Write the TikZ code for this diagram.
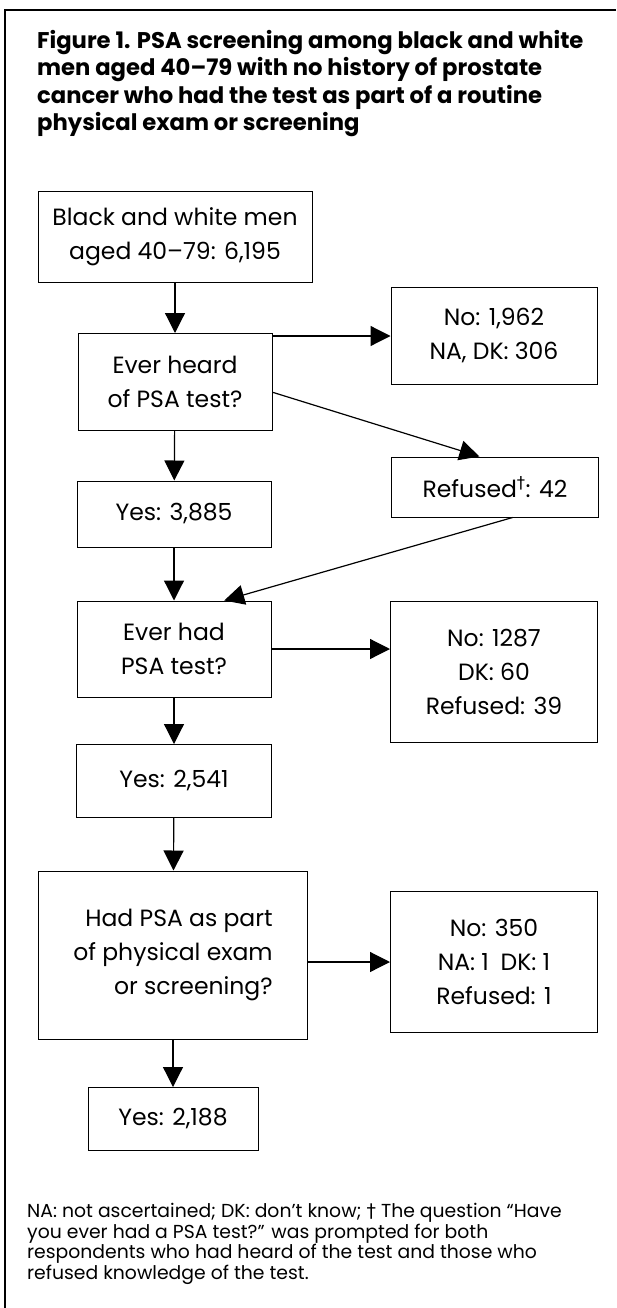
\documentclass[tikz,border=0pt]{standalone}
\usepackage{fontspec}
\setmainfont{Poppins}
\newfontfamily\symfont{DejaVu Sans}
\usetikzlibrary{arrows.meta}

\begin{document}
\begin{tikzpicture}[x=1pt,y=-1pt]
  \tikzstyle{block} = [draw, rectangle, line width=1pt, align=center,
                       inner sep=0pt, font=\fontsize{23.5}{34}\selectfont]
  \tikzstyle{flow} = [-{Triangle[length=20pt,width=20pt]}, line width=1.2pt]
  \tikzstyle{frame} = [line width=2.5pt]

  \useasboundingbox (0,0) rectangle (616,1308);
  \draw[frame] (616,10) -- (5,10) -- (5,1308);

  \node[anchor=north west, align=left, inner sep=0pt,
        font=\bfseries\fontsize{22.7}{27.5}\selectfont] (title) at (37,30)
    {Figure 1. PSA screening among black and white\\
     men aged 40--79 with no history of prostate\\
     cancer who had the test as part of a routine\\
     physical exam or screening};

  % left column
  \node[block, minimum width=274pt, minimum height=90pt] (start) at (175,237)
    {Black and white men\\aged 40--79: 6,195};
  \node[block, minimum width=194pt, minimum height=97pt] (heard) at (175,382)
    {Ever heard\\of PSA test?};
  \node[block, minimum width=194pt, minimum height=66pt] (yes1) at (174,514)
    {Yes: 3,885};
  \node[block, minimum width=194pt, minimum height=96pt] (had) at (174,649)
    {Ever had\\PSA test?};
  \node[block, minimum width=195pt, minimum height=73pt] (yes2) at (174,781)
    {Yes: 2,541};
  \node[block, minimum width=269pt, minimum height=168pt, align=right] (part) at (173,955)
    {Had PSA as part\\of physical exam\\or screening?};
  \node[block, minimum width=170pt, minimum height=63pt] (yes3) at (173,1119)
    {Yes: 2,188};

  % right column
  \node[block, minimum width=206pt, minimum height=97pt] (noheard) at (494,336)
    {No: 1,962\\NA, DK: 306};
  \node[block, minimum width=207pt, minimum height=60pt] (refused) at (495,487)
    {Refused\textsuperscript{\symfont †}: 42};
  \node[block, minimum width=207pt, minimum height=141pt] (nohad) at (494,672)
    {No: 1287\\DK: 60\\Refused: 39};
  \node[block, minimum width=207pt, minimum height=141pt] (nopart) at (494,962)
    {No: 350\\NA: 1\enspace DK: 1\\Refused: 1};

  \draw[flow] (start) -- (heard);
  \draw[flow] (heard.east |- noheard.west) -- (noheard.west);
  \draw[flow] (heard.-6) -- (refused.117);
  \draw[flow] (heard) -- (yes1);
  \draw[flow] (yes1) -- (had);
  \draw[flow] (refused.-60) -- (had.44);
  \draw[flow] (had.east) -- (had.east -| nohad.west);
  \draw[flow] (had) -- (yes2);
  \draw[flow] (yes2) -- (part);
  \draw[flow] (part.east |- nopart.west) -- (nopart.west);
  \draw[flow] (part) -- (yes3);

  \node[anchor=north west, align=left, inner sep=0pt,
        font=\fontsize{18.8}{20.5}\selectfont] (note) at (27,1203)
    {NA: not ascertained; DK: don't know; {\symfont †} The question “Have\\
     you ever had a PSA test?” was prompted for both\\
     respondents who had heard of the test and those who\\
     refused knowledge of the test.};
\end{tikzpicture}
\end{document}
